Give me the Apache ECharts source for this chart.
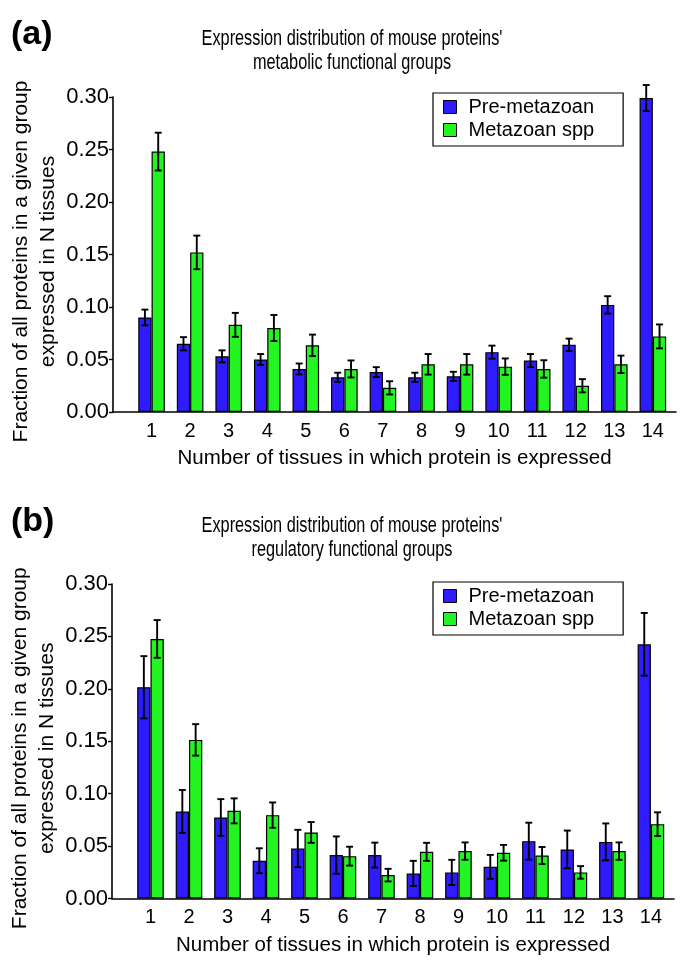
<!DOCTYPE html>
<html>
<head>
<meta charset="utf-8">
<script src="https://cdn.jsdelivr.net/npm/echarts@6/dist/echarts.min.js"></script>
<style>
html,body{margin:0;padding:0;background:#fff;}
#chart{width:685px;height:975px;}
</style>
</head>
<body>
<div id="chart"></div>
<script>
// ---- data ----
const xLabels = ['1','2','3','4','5','6','7','8','9','10','11','12','13','14'];
const yTicks = [0, 0.05, 0.10, 0.15, 0.20, 0.25, 0.30];
const seriesNames = ['Pre-metazoan', 'Metazoan spp'];
const panelTags = ['(a)', '(b)'];
const panelTitles = [
  ["Expression distribution of mouse proteins'", 'metabolic functional groups'],
  ["Expression distribution of mouse proteins'", 'regulatory functional groups']
];

const preMetabolic    = [0.090, 0.065, 0.053, 0.050, 0.041, 0.033, 0.038, 0.033, 0.034, 0.057, 0.049, 0.064, 0.102, 0.299];
const preMetabolicErr = [0.0075, 0.0063, 0.0057, 0.0052, 0.0052, 0.0044, 0.0047, 0.0044, 0.0043, 0.0062, 0.0062, 0.0059, 0.0083, 0.0124];
const metaMetabolic    = [0.248, 0.152, 0.083, 0.080, 0.0635, 0.041, 0.023, 0.0454, 0.0454, 0.0432, 0.041, 0.025, 0.0454, 0.072];
const metaMetabolicErr = [0.018, 0.016, 0.0114, 0.0124, 0.0102, 0.0081, 0.0063, 0.0098, 0.0098, 0.0078, 0.0083, 0.0063, 0.0083, 0.0114];

const preRegulatory    = [0.2015, 0.083, 0.0773, 0.036, 0.0477, 0.0414, 0.0414, 0.0239, 0.0249, 0.0302, 0.0547, 0.0468, 0.054, 0.2425];
const preRegulatoryErr = [0.0297, 0.0205, 0.0175, 0.0119, 0.0178, 0.0178, 0.0119, 0.012, 0.012, 0.0114, 0.0176, 0.018, 0.0176, 0.0299];
const metaRegulatory    = [0.2476, 0.1513, 0.0836, 0.0795, 0.063, 0.0404, 0.0223, 0.0445, 0.0452, 0.0436, 0.041, 0.0249, 0.0452, 0.0709];
const metaRegulatoryErr = [0.018, 0.015, 0.0119, 0.0121, 0.0099, 0.009, 0.006, 0.0086, 0.0083, 0.0075, 0.0081, 0.006, 0.0083, 0.0113];

// ---- styling ----
const BLUE = '#2e1cff';
const GREEN = '#22f522';
const BAR_W = 13.3;
const FONT = "'Liberation Sans', Arial, sans-serif";

function barData(vals){ return vals.map((v,i)=>[i+1, v]); }
function errData(vals, errs){ return vals.map((v,i)=>[i+1, v-errs[i], v+errs[i]]); }

function errSeries(vals, errs, gi, offset){
  return {
    type:'custom', xAxisIndex:gi, yAxisIndex:gi, z:10, silent:true,
    data: errData(vals, errs),
    encode:{x:0, y:[1,2]},
    renderItem:function(params, api){
      const x = api.value(0);
      const lo = api.coord([x, api.value(1)]);
      const hi = api.coord([x, api.value(2)]);
      const cx = lo[0] + offset;
      const cap = 3.5;
      const st = {stroke:'#000', lineWidth:1.9};
      return {type:'group', children:[
        {type:'line', shape:{x1:cx, y1:lo[1], x2:cx, y2:hi[1]}, style:st},
        {type:'line', shape:{x1:cx-cap, y1:lo[1], x2:cx+cap, y2:lo[1]}, style:st},
        {type:'line', shape:{x1:cx-cap, y1:hi[1], x2:cx+cap, y2:hi[1]}, style:st}
      ]};
    }
  };
}

function barSeries(name, vals, color, gi){
  return {
    name:name, type:'bar', xAxisIndex:gi, yAxisIndex:gi,
    data: barData(vals), barWidth: BAR_W, barGap:'0%',
    itemStyle:{color:color, borderColor:'#000', borderWidth:1.2},
    emphasis:{disabled:true}
  };
}

function xAxis(gi){
  return {
    type:'value', gridIndex:gi, min:0, max:14.6, interval:1,
    axisLine:{show:true, lineStyle:{color:'#000', width:1.6}},
    axisTick:{show:false}, splitLine:{show:false},
    axisLabel:{
      color:'#000', fontFamily:FONT, fontSize:20, margin:9,
      showMaxLabel:false,
      formatter:function(v){ const i = Math.round(v); return (Math.abs(v-i)<1e-6 && i>=1 && i<=xLabels.length) ? xLabels[i-1] : ''; }
    },
    name:'Number of tissues in which protein is expressed',
    nameLocation:'middle', nameGap:36, nameMoveOverlap:false,
    nameTextStyle:{color:'#000', fontFamily:FONT, fontSize:20.5}
  };
}

function yAxis(gi){
  return {
    type:'value', gridIndex:gi, min:0, max:0.30, interval:0.05,
    axisLine:{show:true, lineStyle:{color:'#000', width:1.6}},
    axisTick:{show:true, length:4, lineStyle:{color:'#000', width:1.4}},
    splitLine:{show:false},
    axisLabel:{color:'#000', fontFamily:FONT, fontSize:22, margin:4,
      formatter:function(v){ return v.toFixed(2); }},
    name:'Fraction of all proteins in a given group\nexpressed in N tissues',
    nameLocation:'middle', nameGap:51, nameRotate:90, nameMoveOverlap:false,
    nameTextStyle:{color:'#000', fontFamily:FONT, fontSize:21, lineHeight:27, padding:[0,14,0,0]}
  };
}

function legend(top){
  return {
    orient:'vertical', left:433, top:top,
    data:seriesNames,
    icon:'rect', itemWidth:13, itemHeight:13, itemGap:3,
    borderColor:'#000', borderWidth:1.2, borderRadius:0,
    padding:[4, 29, 6, 10],
    itemStyle:{borderColor:'#000', borderWidth:1},
    textStyle:{color:'#000', fontFamily:FONT, fontSize:20, lineHeight:20, padding:[0,0,0,7]},
    selectedMode:false
  };
}

function panelText(dy, gi){
  return [
    {type:'text', left:11, top:18 + dy,
      style:{text:panelTags[gi], fontFamily:FONT, fontWeight:'bold', fontSize:34, fill:'#000'}},
    {type:'text', x:352, y:39 + dy, scaleX:0.74,
      style:{text:panelTitles[gi][0], fontFamily:FONT, fontSize:22, fill:'#000',
        align:'center', verticalAlign:'middle', textAlign:'center', textVerticalAlign:'middle'}},
    {type:'text', x:352, y:63 + dy, scaleX:0.74,
      style:{text:panelTitles[gi][1], fontFamily:FONT, fontSize:22, fill:'#000',
        align:'center', verticalAlign:'middle', textAlign:'center', textVerticalAlign:'middle'}}
  ];
}

const chart = echarts.init(document.getElementById('chart'), null, {renderer:'canvas'});
chart.setOption({
  animation:false,
  backgroundColor:'#fff',
  graphic: panelText(0, 0).concat(panelText(487, 1)),
  legend:[legend(93), legend(582)],
  grid:[
    {left:113, top:97, width:563, height:315, containLabel:false, outerBoundsMode:'none'},
    {left:112, top:584, width:562, height:314.5, containLabel:false, outerBoundsMode:'none'}
  ],
  xAxis:[xAxis(0), xAxis(1)],
  yAxis:[yAxis(0), yAxis(1)],
  series:[
    barSeries(seriesNames[0], preMetabolic, BLUE, 0),
    barSeries(seriesNames[1], metaMetabolic, GREEN, 0),
    errSeries(preMetabolic, preMetabolicErr, 0, -BAR_W/2),
    errSeries(metaMetabolic, metaMetabolicErr, 0, BAR_W/2),
    barSeries(seriesNames[0], preRegulatory, BLUE, 1),
    barSeries(seriesNames[1], metaRegulatory, GREEN, 1),
    errSeries(preRegulatory, preRegulatoryErr, 1, -BAR_W/2),
    errSeries(metaRegulatory, metaRegulatoryErr, 1, BAR_W/2)
  ]
});
</script>
</body>
</html>
